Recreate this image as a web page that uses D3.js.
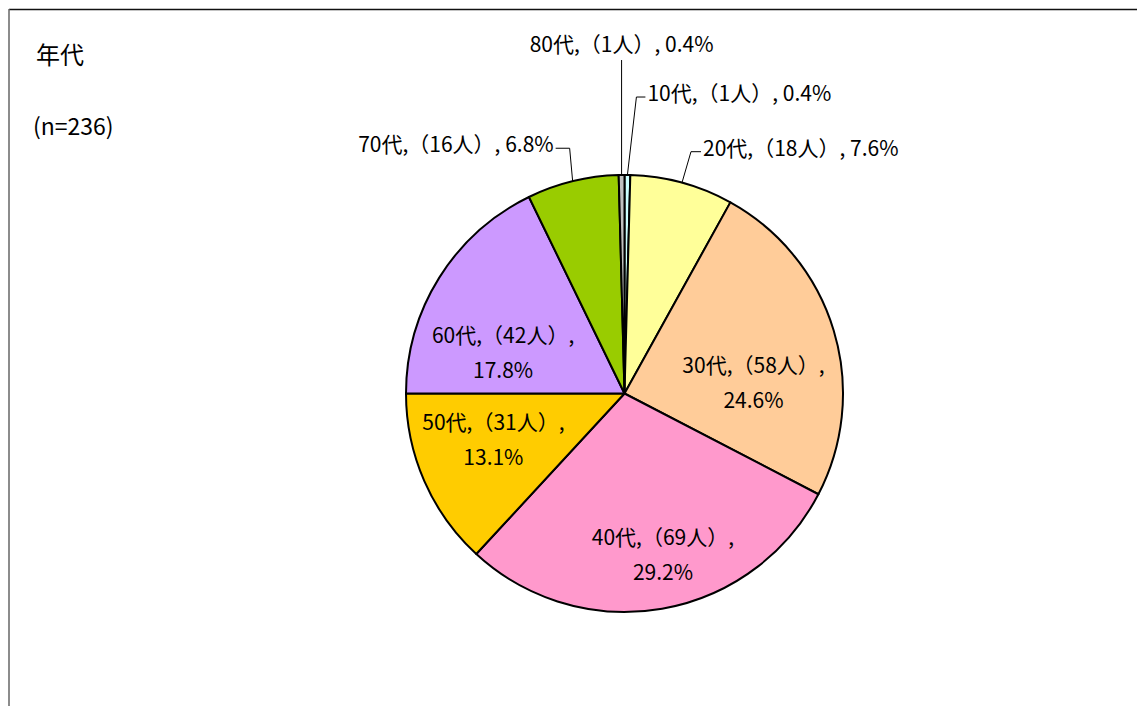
<!DOCTYPE html>
<html>
<head>
<meta charset="utf-8">
<script src="https://cdn.jsdelivr.net/npm/d3@7"></script>
<style>
  body { margin: 0; background: #fff; }
  text { font-family: "Noto Sans CJK JP", "Noto Sans", sans-serif; fill: #000; }
</style>
</head>
<body>
<div id="chart"></div>
<script>
// data
const categories = ["10代", "20代", "30代", "40代", "50代", "60代", "70代", "80代"];
const counts = [1, 18, 58, 69, 31, 42, 16, 1];
const percents = ["0.4%", "7.6%", "24.6%", "29.2%", "13.1%", "17.8%", "6.8%", "0.4%"];
const sliceColors = ["#CCFFFF", "#FFFF99", "#FFCC99", "#FF99CC", "#FFCC00", "#CC99FF", "#99CC00", "#C0C0C0"];
const title = "年代";
const subtitle = "(n=236)";

// label placement (Excel "best fit" style), offsets from the computed anchor
const labelLayout = {
  "10代": { out: true, elbow: [9, -78], run: 9, anchor: "start" },
  "20代": { out: true, elbow: [9, -31], run: 10, anchor: "start" },
  "70代": { out: true, elbow: [-3, -33], run: -14, anchor: "end" },
  "80代": { out: true, elbow: [0, -115], run: 0, anchor: "middle" },
  "30代": { out: false, nudge: [-7, 31] },
  "40代": { out: false, nudge: [14, 22] },
  "50代": { out: false, nudge: [-1, -10] },
  "60代": { out: false, nudge: [-1, 35] }
};

const dimensions = { width: 1137, height: 706, cx: 624.5, cy: 393.5, radius: 218.5 };

const svg = d3.select("#chart").append("svg")
  .attr("width", dimensions.width)
  .attr("height", dimensions.height);

// frame
svg.append("line").attr("x1", 9).attr("y1", 9.5).attr("x2", 1137).attr("y2", 9.5)
  .attr("stroke", "#111").attr("stroke-width", 1.5);
svg.append("line").attr("x1", 9).attr("y1", 9).attr("x2", 9).attr("y2", 706)
  .attr("stroke", "#666").attr("stroke-width", 1.5);

svg.append("text").attr("x", 36).attr("y", 64).style("font-size", "24px").text(title);
svg.append("text").attr("x", 33).attr("y", 135).style("font-size", "23px").text(subtitle);

const rows = categories.map((c, i) => ({ cat: c, n: counts[i], pct: percents[i], color: sliceColors[i] }));

const pie = d3.pie().sort(null).value(d => d.n);
const arcs = pie(rows);

const arc = d3.arc().innerRadius(0).outerRadius(dimensions.radius);
const edgeArc = d3.arc().innerRadius(dimensions.radius).outerRadius(dimensions.radius);
const labelArc = d3.arc().innerRadius(dimensions.radius * 0.65).outerRadius(dimensions.radius * 0.65);

const g = svg.append("g")
  .attr("transform", `translate(${dimensions.cx}, ${dimensions.cy})`);

g.selectAll("path.slice")
  .data(arcs)
  .join("path")
  .attr("class", "slice")
  .attr("d", arc)
  .attr("fill", d => d.data.color)
  .attr("stroke", "#000")
  .attr("stroke-width", 2)
  .attr("stroke-linejoin", "round");

const fontSize = 21;

// inside labels (two lines)
arcs.filter(d => !labelLayout[d.data.cat].out).forEach(d => {
  const [x, y] = labelArc.centroid(d);
  const [nx, ny] = labelLayout[d.data.cat].nudge;
  const t = g.append("text")
    .attr("text-anchor", "middle")
    .style("font-size", fontSize + "px")
    .attr("transform", `translate(${x + nx}, ${y + ny})`);
  t.append("tspan").attr("x", 0).attr("y", -10).text(`${d.data.cat},（${d.data.n}人）,`);
  t.append("tspan").attr("x", 0).attr("y", 25).text(d.data.pct);
});

// outside labels with leader lines
arcs.filter(d => labelLayout[d.data.cat].out).forEach(d => {
  const L = labelLayout[d.data.cat];
  const [ex, ey] = edgeArc.centroid(d);
  const bx = ex + L.elbow[0], by = ey + L.elbow[1];
  const tx = bx + L.run;
  g.append("path")
    .attr("d", d3.line()([[ex, ey], [bx, by], [tx, by]]))
    .attr("fill", "none")
    .attr("stroke", "#000")
    .attr("stroke-width", 1);
  const label = `${d.data.cat},（${d.data.n}人）, ${d.data.pct}`;
  if (L.anchor === "middle") {
    g.append("text").attr("x", tx).attr("y", by - 8)
      .attr("text-anchor", "middle")
      .style("font-size", fontSize + "px")
      .text(label);
  } else {
    g.append("text").attr("x", tx + (L.anchor === "start" ? 2 : -2)).attr("y", by + 4)
      .attr("text-anchor", L.anchor)
      .style("font-size", fontSize + "px")
      .text(label);
  }
});
</script>
</body>
</html>
